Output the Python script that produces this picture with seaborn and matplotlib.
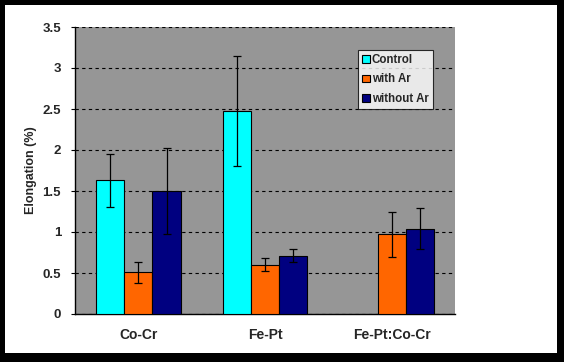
import matplotlib
matplotlib.use("Agg")
import matplotlib.pyplot as plt
import matplotlib.patches as mpatches
import numpy as np
import pandas as pd
import seaborn as sns

categories = ["Co-Cr", "Fe-Pt", "Fe-Pt:Co-Cr"]
series = ["Control", "with Ar", "without Ar"]
control = [1.63, 2.48, np.nan]
with_ar = [0.51, 0.60, 0.97]
without_ar = [1.50, 0.71, 1.04]
control_err = [0.32, 0.67, np.nan]
with_ar_err = [0.13, 0.08, 0.27]
without_ar_err = [0.52, 0.08, 0.25]
y_ticks = [0, 0.5, 1, 1.5, 2, 2.5, 3, 3.5]
y_tick_labels = ["0", "0.5", "1", "1.5", "2", "2.5", "3", "3.5"]
colors = ["#00FFFF", "#FF6600", "#000080"]

values = [control, with_ar, without_ar]
errors = [control_err, with_ar_err, without_ar_err]
df = pd.DataFrame({
    "category": [c for _ in series for c in categories],
    "series": [s for s in series for _ in categories],
    "value": [v for vals in values for v in vals],
})

sns.set_style("white")
plt.rcParams["font.family"] = ["Liberation Sans", "DejaVu Sans"]
plt.rcParams["font.weight"] = "bold"

W, H = 564, 362
fig = plt.figure(figsize=(W / 100, H / 100), dpi=100)
fig.patch.set_facecolor("black")
fig.patches.append(mpatches.Rectangle((5 / W, 9 / H), 552 / W, 348 / H,
                                      transform=fig.transFigure,
                                      facecolor="white", edgecolor="none", zorder=-10))

ax = fig.add_axes([75 / W, 48 / H, 380 / W, 287 / H])
ax.set_facecolor("#969696")

sns.barplot(data=df, x="category", y="value", hue="series", order=categories,
            hue_order=series, palette=colors, saturation=1, width=0.67, gap=0,
            errorbar=None, edgecolor="black", linewidth=0.8, ax=ax, zorder=3)

# error bars at the centres of the bars seaborn drew
for container, err in zip(ax.containers, errors):
    for bar in container:
        h = bar.get_height()
        if np.isnan(h):
            continue
        xc = bar.get_x() + bar.get_width() / 2
        idx = int(round(xc))
        ax.errorbar(xc, h, yerr=err[idx], fmt="none", ecolor="black",
                    elinewidth=0.9, capsize=3, capthick=0.9, zorder=4)

ax.set_ylim(0, 3.5)
ax.set_xlim(-0.5, 2.5)
ax.set_yticks(y_ticks)
ax.set_yticklabels(y_tick_labels, fontsize=9.5, fontweight="bold")
ax.set_xticks(range(len(categories)))
ax.set_xticklabels(categories, fontsize=10, fontweight="bold")
ax.set_xticks([0.5, 1.5, 2.5], minor=True)
ax.tick_params(axis="x", which="major", length=0, pad=10)
ax.tick_params(axis="x", which="minor", direction="in", length=3, width=0.8, color="black")
ax.tick_params(axis="y", direction="out", length=3, width=0.8, color="black", pad=7, left=True)
ax.set_xlabel("")
ax.set_ylabel("Elongation (%)", fontsize=9, fontweight="bold", labelpad=4)

ax.yaxis.grid(True, linestyle=(0, (3, 3)), color="black", linewidth=0.8, zorder=1)
ax.set_axisbelow(True)
for side in ["top", "right"]:
    ax.spines[side].set_visible(False)
for side in ["left", "bottom"]:
    ax.spines[side].set_color("black")
    ax.spines[side].set_linewidth(1)

handles = [mpatches.Patch(facecolor=c, edgecolor="black", linewidth=0.8) for c in colors]
leg = ax.legend(handles, series, loc="upper left", bbox_to_anchor=(0.745, 0.92),
                fontsize=8.3, frameon=True, fancybox=False, handlelength=0.65,
                handleheight=0.65, handletextpad=0.2, labelspacing=0.65,
                borderpad=0.35, borderaxespad=0)
leg.get_frame().set_edgecolor("black")
leg.get_frame().set_linewidth(0.8)
leg.get_frame().set_facecolor("white")
for t in leg.get_texts():
    t.set_fontweight("bold")

fig.savefig("out.png", dpi=100, facecolor=fig.get_facecolor())
